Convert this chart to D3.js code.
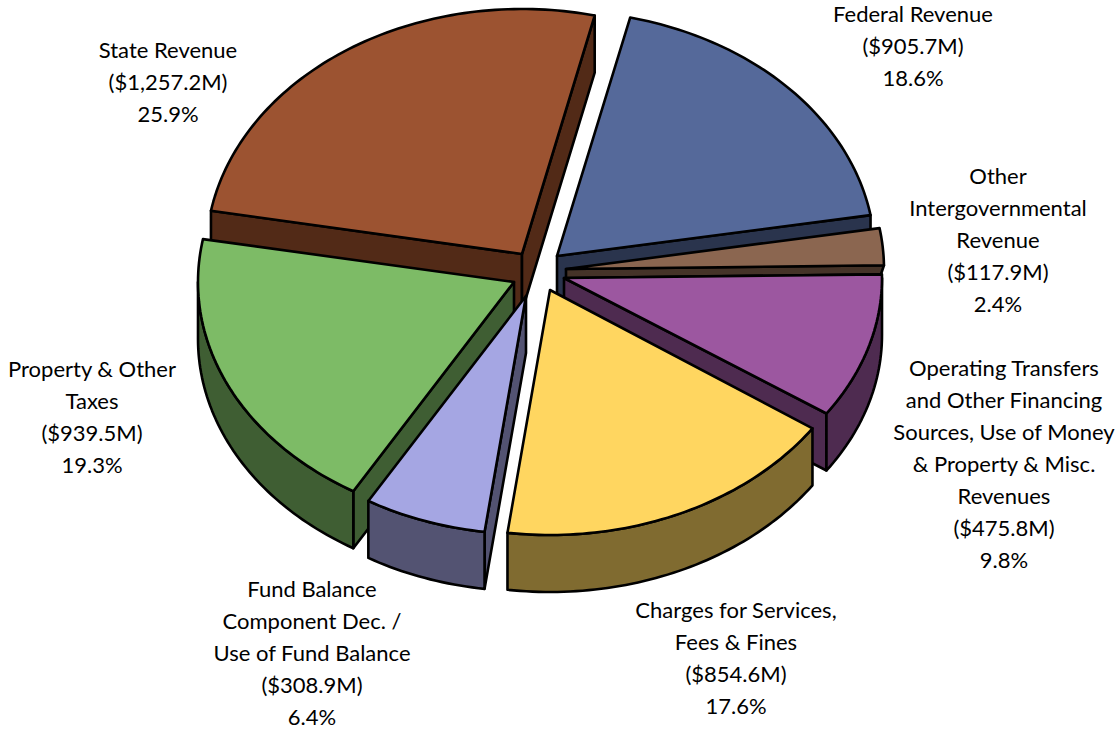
<!DOCTYPE html>
<html><head><meta charset="utf-8">
<script src="https://cdn.jsdelivr.net/npm/d3@7/dist/d3.min.js"></script>
<style>html,body{margin:0;padding:0;background:#fff}svg{display:block}text{font-family:Lato,"Open Sans",sans-serif;font-size:22px;fill:#000}</style>
</head><body><svg id="c" width="1120" height="730"></svg>
<script>
const categories = ["Federal Revenue","Other Intergovernmental Revenue","Operating Transfers and Other Financing Sources, Use of Money & Property & Misc. Revenues","Charges for Services, Fees & Fines","Fund Balance Component Dec. / Use of Fund Balance","Property & Other Taxes","State Revenue"];
const values = [905.7,117.9,475.8,854.6,308.9,939.5,1257.2];
const percents = ["18.6%","2.4%","9.8%","17.6%","6.4%","19.3%","25.9%"];
const amounts = ["($905.7M)","($117.9M)","($475.8M)","($854.6M)","($308.9M)","($939.5M)","($1,257.2M)"];
const nameLines = [["Federal Revenue"],["Other","Intergovernmental","Revenue"],["Operating Transfers","and Other Financing","Sources, Use of Money","& Property & Misc.","Revenues"],["Charges for Services,","Fees & Fines"],["Fund Balance","Component Dec. /","Use of Fund Balance"],["Property & Other","Taxes"],["State Revenue"]];
const topColors = ["#55699a","#8b6650","#9c57a0","#ffd660","#a5a6e3","#7dbb66","#9c5331"];
const wallColors = ["#2a344d","#453328","#4e2b50","#806b30","#535372","#3f5e33","#522a17"];

// layout
const apex = [[557,256],[566,269],[564,278],[550,290],[526,296],[514,282],[522,254]];
const radiusX = [318,318,318,318,310,316,316];
const radiusY = [245,245,240,245,238,243,245];
const depths = [57,9,57,57,57,57,57];
const wallInset = [0,3,0,0,0,0,0];
const labelPos = [[913,14],[998,176],[1004,368],[736,610],[312,589.5],[92,369],[168,50]];
const drawOrder = [6,0,1,2,3,5,4];
const lh = 32.1;

const svg = d3.select("#c");
const pie = d3.pie().sort(null).startAngle(13.3*Math.PI/180).endAngle((13.3+360)*Math.PI/180);
const arcs = pie(values);
const line = d3.line();

function samples(a0,a1){
  const n = Math.max(2,Math.ceil((a1-a0)/0.02));
  return d3.range(n+1).map(i=>a0+(a1-a0)*i/n);
}
drawOrder.forEach(i=>{
  const d = arcs[i], c = apex[i], depth = depths[i];
  const pt = (a,dz=0,inset=0)=>[c[0]+radiusX[i]*Math.sin(a)-inset, c[1]-radiusY[i]*Math.cos(a)+dz];
  const g = svg.append("g");
  const style = (s,f)=>s.attr("fill",f).attr("stroke","#000").attr("stroke-width",2.6).attr("stroke-linejoin","round");
  const bottom = [c[0],c[1]+depth];
  // radial walls facing the viewer
  if (Math.sin(d.startAngle) < 0)
    style(g.append("path").attr("d",line([c,pt(d.startAngle),pt(d.startAngle,depth),bottom])+"Z"),wallColors[i]);
  if (Math.sin(d.endAngle) > 0)
    style(g.append("path").attr("d",line([c,pt(d.endAngle),pt(d.endAngle,depth,wallInset[i]),bottom])+"Z"),wallColors[i]);
  // front part of the outer wall
  const a0 = Math.max(d.startAngle,Math.PI/2), a1 = Math.min(d.endAngle,Math.PI*1.5);
  if (a1 > a0) {
    const as = samples(a0,a1);
    const outer = as.map(a=>pt(a)).concat(as.slice().reverse().map(a=>pt(a,depth)));
    style(g.append("path").attr("d",line(outer)+"Z"),wallColors[i]);
  }
  // top face
  style(g.append("path").attr("d",line([c].concat(samples(d.startAngle,d.endAngle).map(a=>pt(a))))+"Z"),topColors[i]);
});
categories.forEach((name,i)=>{
  const lines = nameLines[i].concat([amounts[i],percents[i]]);
  const t = svg.append("text").attr("text-anchor","middle").attr("aria-label",name);
  lines.forEach((l,j)=>t.append("tspan").attr("x",labelPos[i][0]).attr("y",labelPos[i][1]+j*lh+7.5).text(l));
});
</script></body></html>
